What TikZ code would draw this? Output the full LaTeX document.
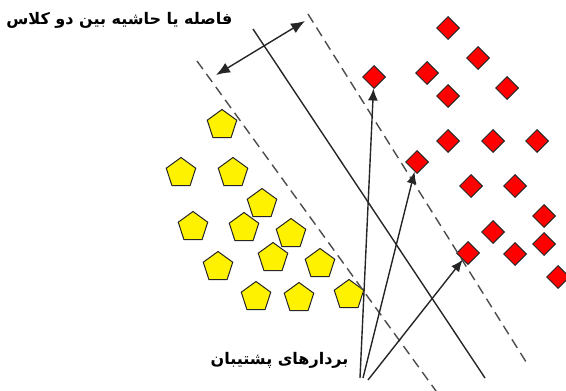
\documentclass[tikz,border=0pt]{standalone}
\usepackage{fontspec}
\newfontfamily\arabicfont[Script=Arabic]{DejaVu Sans}
\TeXXeTstate=1
\usetikzlibrary{positioning, shapes.geometric, arrows.meta}

\begin{document}
\begin{tikzpicture}[
      x=1pt, y=-1pt,
      redpt/.style={diamond, draw=black!85, fill=red, line width=1pt,
      inner sep=0pt, minimum width=23pt, minimum height=23pt},
      yellowpt/.style={regular polygon, regular polygon sides=5, draw=black!85,
      fill=yellow, line width=1pt, inner sep=0pt, minimum size=31pt},
      margin/.style={draw=black!70, line width=1.4pt, dash pattern=on 10pt off 6pt},
      hyper/.style={draw=black!85, line width=1.4pt},
      line/.style={draw=black!85, -{Latex[length=12pt, width=10pt]}, line width=1.4pt},
      label/.style={font=\arabicfont\bfseries\fontsize{16}{18}\selectfont}
    ]
    \useasboundingbox (0,0) rectangle (566,391);

    % class 1 (red)
    \node [redpt] (d1) at (448,28) {};
    \node [redpt] (d2) at (478,58) {};
    \node [redpt] (d3) at (427,73) {};
    \node [redpt] (d4) at (374,77) {};
    \node [redpt] (d5) at (448,96) {};
    \node [redpt] (d6) at (507,88) {};
    \node [redpt] (d7) at (448,141) {};
    \node [redpt] (d8) at (493,141) {};
    \node [redpt] (d9) at (537,141) {};
    \node [redpt] (d10) at (417,162) {};
    \node [redpt] (d11) at (471,186) {};
    \node [redpt] (d12) at (515,186) {};
    \node [redpt] (d13) at (544,216) {};
    \node [redpt] (d14) at (493,232) {};
    \node [redpt] (d15) at (544,244) {};
    \node [redpt] (d16) at (468,253) {};
    \node [redpt] (d17) at (515,254) {};
    \node [redpt] (d18) at (558,277) {};

    % class 2 (yellow)
    \node [yellowpt] (p1) at (222,125) {};
    \node [yellowpt] (p2) at (181,173) {};
    \node [yellowpt] (p3) at (233,173) {};
    \node [yellowpt] (p4) at (262,204) {};
    \node [yellowpt] (p5) at (193,227) {};
    \node [yellowpt] (p6) at (244,228) {};
    \node [yellowpt] (p7) at (291,234) {};
    \node [yellowpt] (p8) at (273,258) {};
    \node [yellowpt] (p9) at (218,267) {};
    \node [yellowpt] (p10) at (320,264) {};
    \node [yellowpt] (p11) at (256,297) {};
    \node [yellowpt] (p12) at (299,298) {};
    \node [yellowpt] (p13) at (349,295) {};

    % separating line and margins
    \coordinate (lowtop) at (197,61);
    \coordinate (lowbot) at (436,391);
    \coordinate (hyptop) at (253,29);
    \coordinate (hypbot) at (485,378);
    \coordinate (uptop) at (308,14);
    \coordinate (upbot) at (528,365);
    \path [margin] (lowtop) -- (lowbot);
    \path [hyper] (hyptop) -- (hypbot);
    \path [margin] (uptop) -- (upbot);

    % margin width
    \coordinate (gapleft) at (216,75);
    \coordinate (gapright) at (305,21);
    \path [line, {Latex[length=14pt, width=11pt]}-{Latex[length=14pt, width=11pt]}]
      (gapleft) -- (gapright);
    \node [label, anchor=east] (gaptext) at (236,20)
      {\beginR فاصله یا حاشیه بین دو کلاس\endR};

    % support vectors
    \coordinate (sv1) at (360,378);
    \coordinate (sv2) at (363,378);
    \coordinate (sv3) at (368,380);
    \path [line] (sv1) -- (d4);
    \path [line] (sv2) -- (d10);
    \path [line] (sv3) -- (d16);
    \node [label, anchor=east] (svtext) at (352,360)
      {\beginR بردارهای پشتیبان\endR};
  \end{tikzpicture}
\end{document}
